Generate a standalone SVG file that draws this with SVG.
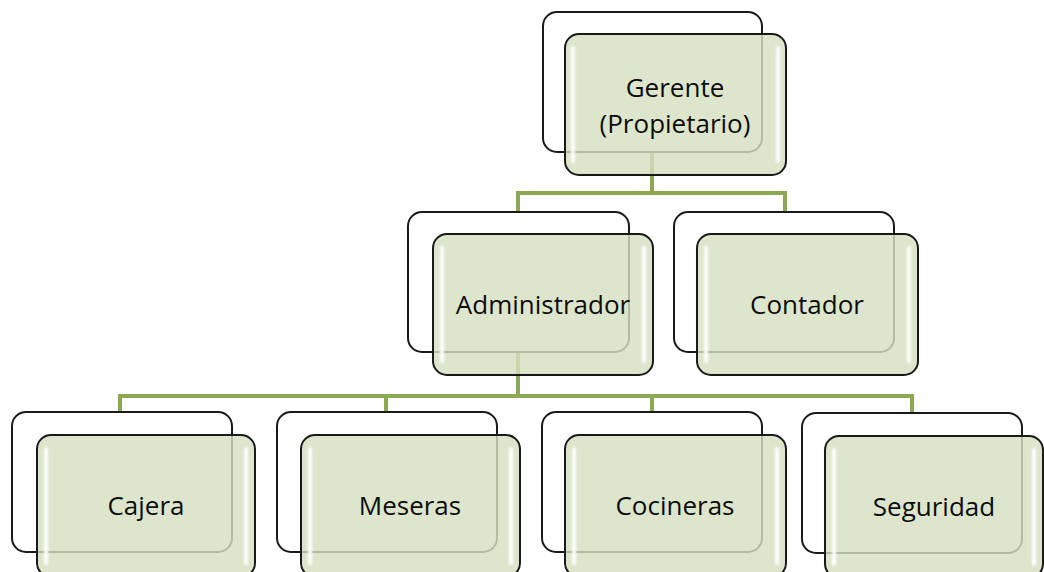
<svg xmlns="http://www.w3.org/2000/svg" width="1044" height="572" viewBox="0 0 1044 572">
<defs>
<filter id="blur" x="-50%" y="-10%" width="200%" height="120%"><feGaussianBlur stdDeviation="1"/></filter>
<style>
.back{fill:#ffffff;stroke:#1a1a1a;stroke-width:2}
.front{fill:#d6e1c2;fill-opacity:0.82;stroke:#1a1a1a;stroke-width:2}
.hl{fill:#ffffff;fill-opacity:0.95}
.conn{fill:none;stroke:#8da852;stroke-width:4}
.lbl{font-family:"Open Sans","Noto Sans",sans-serif;font-size:26px;fill:#0d0d0d;text-anchor:middle;dominant-baseline:central}
</style>
</defs>
<rect width="1044" height="572" fill="#ffffff"/>
<g id="connectors">
<path class="conn" d="M652 150 V193 M518 193 H785 M518 191 V212 M785 191 V212"/>
<path class="conn" d="M518 350 V396 M120 396 H912 M120 394 V412 M386 394 V412 M652 394 V412 M912 394 V412"/>
</g>
<g id="gerente">
<rect class="back" x="543" y="12" width="219" height="140" rx="14"/>
<rect class="front" x="565" y="34" width="221" height="141" rx="14"/>
<rect class="hl" x="571" y="46" width="4" height="117" rx="2" filter="url(#blur)"/>
<rect class="hl" x="776" y="46" width="4" height="117" rx="2" filter="url(#blur)"/>
<text class="lbl" x="675" y="87">Gerente</text>
<text class="lbl" x="675" y="123">(Propietario)</text>
</g>
<g id="administrador">
<rect class="back" x="408" y="212" width="221" height="140" rx="14"/>
<rect class="front" x="433" y="234" width="220" height="141" rx="14"/>
<rect class="hl" x="440" y="246" width="4" height="117" rx="2" filter="url(#blur)"/>
<rect class="hl" x="642" y="246" width="4" height="117" rx="2" filter="url(#blur)"/>
<text class="lbl" x="543" y="304">Administrador</text>
</g>
<g id="contador">
<rect class="back" x="674" y="212" width="220" height="140" rx="14"/>
<rect class="front" x="697" y="234" width="221" height="141" rx="14"/>
<rect class="hl" x="704" y="246" width="4" height="117" rx="2" filter="url(#blur)"/>
<rect class="hl" x="907" y="246" width="4" height="117" rx="2" filter="url(#blur)"/>
<text class="lbl" x="807" y="304">Contador</text>
</g>
<g id="cajera">
<rect class="back" x="12" y="412" width="220" height="140" rx="14"/>
<rect class="front" x="37" y="435" width="218" height="142" rx="14"/>
<rect class="hl" x="44" y="447" width="4" height="118" rx="2" filter="url(#blur)"/>
<rect class="hl" x="244" y="447" width="4" height="118" rx="2" filter="url(#blur)"/>
<text class="lbl" x="146" y="505">Cajera</text>
</g>
<g id="meseras">
<rect class="back" x="277" y="412" width="220" height="140" rx="14"/>
<rect class="front" x="301" y="435" width="219" height="142" rx="14"/>
<rect class="hl" x="308" y="447" width="4" height="118" rx="2" filter="url(#blur)"/>
<rect class="hl" x="509" y="447" width="4" height="118" rx="2" filter="url(#blur)"/>
<text class="lbl" x="410" y="505">Meseras</text>
</g>
<g id="cocineras">
<rect class="back" x="542" y="412" width="220" height="140" rx="14"/>
<rect class="front" x="565" y="435" width="221" height="142" rx="14"/>
<rect class="hl" x="572" y="447" width="4" height="118" rx="2" filter="url(#blur)"/>
<rect class="hl" x="775" y="447" width="4" height="118" rx="2" filter="url(#blur)"/>
<text class="lbl" x="675" y="505">Cocineras</text>
</g>
<g id="seguridad">
<rect class="back" x="802" y="413" width="220" height="140" rx="14"/>
<rect class="front" x="825" y="436" width="218" height="142" rx="14"/>
<rect class="hl" x="832" y="448" width="4" height="118" rx="2" filter="url(#blur)"/>
<rect class="hl" x="1032" y="448" width="4" height="118" rx="2" filter="url(#blur)"/>
<text class="lbl" x="934" y="506">Seguridad</text>
</g>
</svg>
